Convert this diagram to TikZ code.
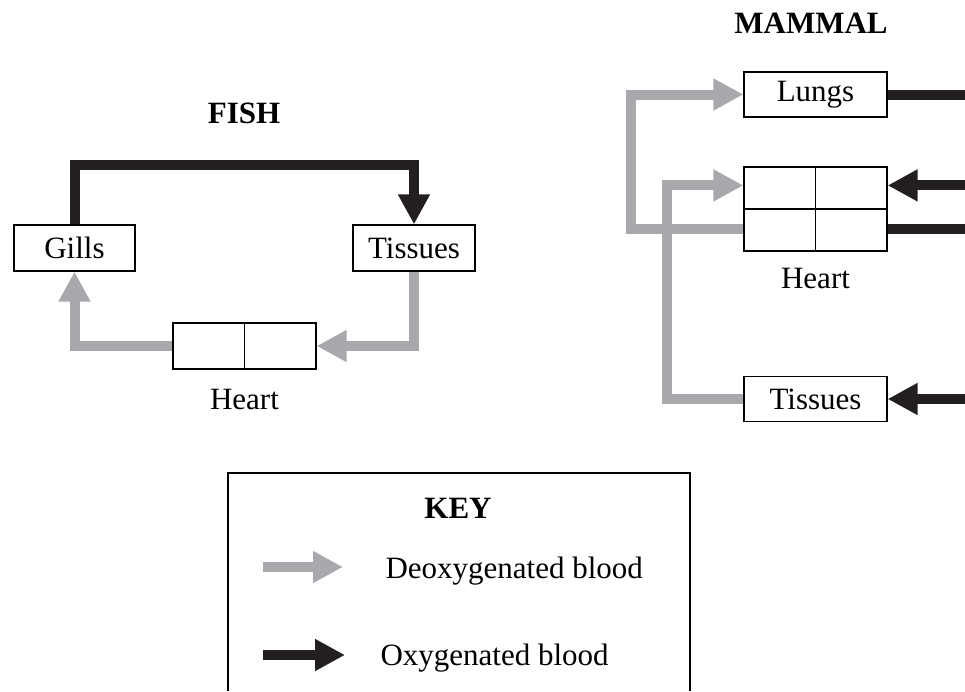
\documentclass[tikz,border=0pt]{standalone}
\usepackage{fontspec}
\setmainfont{Liberation Serif}
\usetikzlibrary{arrows.meta}

\definecolor{deoxgray}{HTML}{A7A9AC}
\definecolor{oxblack}{HTML}{231F20}

\tikzset{
  organ/.style={draw, line width=1.2pt, inner sep=0pt, minimum height=46pt,
    font=\fontsize{31}{36}\selectfont},
  title/.style={anchor=base, font=\fontsize{31}{36}\selectfont\bfseries},
  caption/.style={anchor=base, font=\fontsize{31}{36}\selectfont},
  deoxy/.style={draw=deoxgray, line width=10pt, -{Triangle[length=30pt,width=30pt]}},
  oxy/.style={draw=oxblack, line width=10pt, -{Triangle[length=30pt,width=30pt]}},
  deoxyline/.style={draw=deoxgray, line width=10pt},
  oxyline/.style={draw=oxblack, line width=10pt}
}

\begin{document}
\begin{tikzpicture}[x=1pt, y=-1pt]
    \useasboundingbox (0,0) rectangle (965,691);
    \coordinate (edge) at (965,0);

    % fish
    \node[title] (fishtitle) at (244,123) {FISH};
    \node[organ, minimum width=121pt] (gills) at (74.5,248) {Gills};
    \node[organ, minimum width=122pt] (ftissues) at (414,248) {Tissues};
    \node[organ, minimum width=143pt] (fheart) at (244.5,346) {};
    \draw[line width=1.2pt] (fheart.north) -- (fheart.south);
    \node[caption] (fheartlabel) at (244.5,409) {Heart};
    \draw[oxy] (gills.north) -- ++(0,-59) -| (ftissues.north);
    \draw[deoxy] (ftissues.south) |- (fheart.east);
    \draw[deoxy] (fheart.west) -| (gills.south);

    % mammal
    \node[title] (mammaltitle) at (811,33) {MAMMAL};
    \node[organ, minimum width=143pt, minimum height=45pt] (lungs) at (815.5,94.5) {Lungs};
    \node[organ, minimum width=143pt, minimum height=84pt] (mheart) at (815.5,209) {};
    \draw[line width=1.2pt] (mheart.north) -- (mheart.south);
    \draw[line width=1.2pt] (mheart.west) -- (mheart.east);
    \node[caption] (mheartlabel) at (815.5,288) {Heart};
    \node[organ, minimum width=143pt, minimum height=45pt] (mtissues) at (815.5,399) {Tissues};
    \coordinate (mhu) at ([yshift=-19pt]mheart.north west);
    \coordinate (mhl) at ([yshift=23pt]mheart.south west);
    \coordinate (mhur) at ([yshift=-19pt]mheart.north east);
    \coordinate (mhlr) at ([yshift=23pt]mheart.south east);
    \draw[deoxy] (mhl) -- ++(-112,0) |- (lungs.west);
    \draw[deoxy] (mtissues.west) -- ++(-76,0) |- (mhu);
    \draw[oxyline] (lungs.east) -- (lungs.east -| edge);
    \draw[oxy] (mhur -| edge) -- (mhur);
    \draw[oxyline] (mhlr) -- (mhlr -| edge);
    \draw[oxy] (mtissues.east -| edge) -- (mtissues.east);

    % key
    \draw[line width=1.2pt] (228,691) |- (690,473) -- (690,691);
    \node[title] (keytitle) at (458,518) {KEY};
    \coordinate (dstart) at (263,567);
    \coordinate (dend) at (343,567);
    \coordinate (ostart) at (263,655);
    \coordinate (oend) at (345,655);
    \draw[deoxy] (dstart) -- (dend);
    \draw[oxy] (ostart) -- (oend);
    \node[caption, anchor=base west] (deoxylabel) at (382,578) {Deoxygenated blood};
    \node[caption, anchor=base west] (oxylabel) at (377,665) {Oxygenated blood};
\end{tikzpicture}
\end{document}
